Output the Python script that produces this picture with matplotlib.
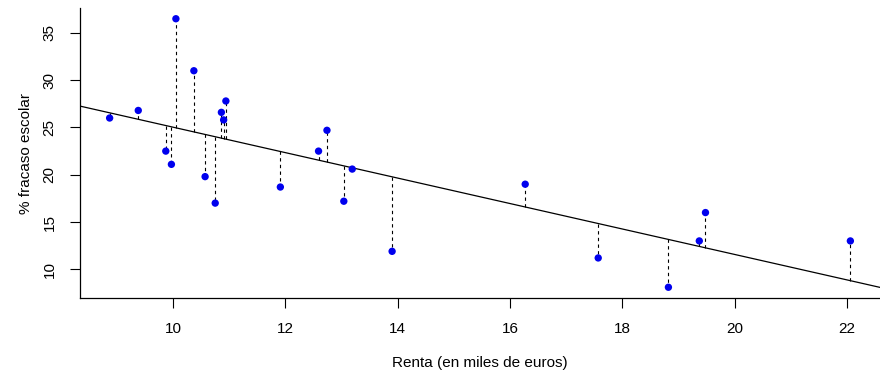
import matplotlib
matplotlib.use('Agg')
import matplotlib.pyplot as plt
import numpy as np

plt.rcParams['font.family'] = ['Liberation Sans', 'DejaVu Sans']

# renta (miles de euros) y % fracaso escolar
renta = [8.87, 9.38, 9.87, 9.97, 10.05, 10.37, 10.57, 10.75, 10.86, 10.90,
         10.94, 11.91, 12.59, 12.74, 13.04, 13.19, 13.90, 16.27, 17.57,
         18.82, 19.37, 19.48, 22.06]
fracaso = [26.0, 26.8, 22.5, 21.1, 36.5, 31.0, 19.8, 17.0, 26.6, 25.8,
           27.8, 18.7, 22.5, 24.7, 17.2, 20.6, 11.9, 19.0, 11.2,
           8.1, 13.0, 16.0, 13.0]

x = np.array(renta)
y = np.array(fracaso)
b, a = np.polyfit(x, y, 1)
yhat = a + b * x

fig = plt.figure(figsize=(8.8, 3.7), dpi=100)
ax = fig.add_axes([80 / 880, 72 / 370, 800 / 880, 290 / 370])

# rango estilo R: 4% de margen
xr = x.max() - x.min()
yr = y.max() - y.min()
ax.set_xlim(x.min() - 0.04 * xr, x.max() + 0.04 * xr)
ax.set_ylim(y.min() - 0.04 * yr, y.max() + 0.04 * yr)

ax.vlines(x, yhat, y, colors='black', linestyles=(0, (3, 3)), lw=0.8, zorder=2)
xl = np.array(ax.get_xlim())
ax.plot(xl, a + b * xl, color='black', lw=0.9, zorder=2)
ax.scatter(x, y, s=28, color='#0000ee', edgecolors='none', zorder=3)

ax.set_xticks([10, 12, 14, 16, 18, 20, 22])
ax.set_yticks([10, 15, 20, 25, 30, 35])
for s in ('top', 'right'):
  ax.spines[s].set_visible(False)
for s in ('left', 'bottom'):
  ax.spines[s].set_linewidth(0.9)
ax.tick_params(length=7, width=0.8, labelsize=11, pad=10)
for lab in ax.get_yticklabels():
  lab.set_rotation(90)
  lab.set_va('center')
ax.set_xlabel('Renta (en miles de euros)', fontsize=11, labelpad=15)
ax.set_ylabel('% fracaso escolar', fontsize=11, labelpad=7)

fig.savefig('out.png', dpi=100)
